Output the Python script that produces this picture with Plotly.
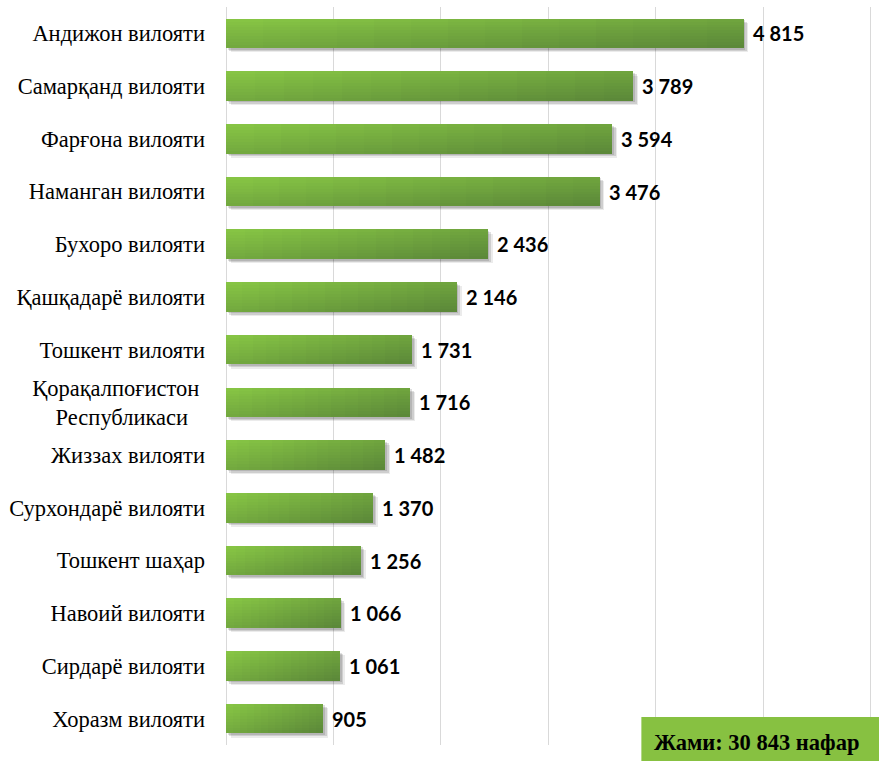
import plotly.graph_objects as go

categories = [
    "Андижон вилояти",
    "Самарқанд вилояти",
    "Фарғона вилояти",
    "Наманган вилояти",
    "Бухоро вилояти",
    "Қашқадарё вилояти",
    "Тошкент вилояти",
    "Қорақалпоғистон&nbsp;<br>Республикаси&nbsp;&nbsp;&nbsp;",
    "Жиззах вилояти",
    "Сурхондарё вилояти",
    "Тошкент шаҳар",
    "Навоий вилояти",
    "Сирдарё вилояти",
    "Хоразм вилояти",
]
values = [4815, 3789, 3594, 3476, 2436, 2146, 1731, 1716, 1482, 1370, 1256, 1066, 1061, 905]
total_label = "Жами: 30 843 нафар"


def fmt(v):
    return f"{v:,}".replace(",", " ")


fig = go.Figure()

BAR_W = 0.56
# soft shadow
for k, (dx, dy, a) in enumerate([(45, 0.08, 0.08), (30, 0.055, 0.12), (15, 0.03, 0.12)]):
    fig.add_trace(go.Bar(
        y=categories, x=values, base=dx, orientation="h",
        width=BAR_W, offset=-BAR_W / 2 + dy,
        marker=dict(color=f"rgba(0,0,0,{a})", line=dict(width=0)),
        hoverinfo="skip", showlegend=False,
    ))

# gradient body built from overlapping slices
c0 = (134, 196, 68)
c1 = (92, 137, 57)
N, M = 10, 14
for i in range(N):
    for j in range(M):
        t = 0.45 * (i / (N - 1)) + 0.55 * (j / (M - 1))
        col = tuple(round(c0[k] + (c1[k] - c0[k]) * t) for k in range(3))
        fig.add_trace(go.Bar(
            y=categories,
            x=[v * (1 - j / M) for v in values],
            base=[v * j / M for v in values],
            orientation="h",
            width=BAR_W - i * BAR_W / N,
            offset=-BAR_W / 2 + i * BAR_W / N,
            marker=dict(color="rgb(%d,%d,%d)" % col, line=dict(width=0)),
            hoverinfo="skip", showlegend=False,
        ))

for c, v in zip(categories, values):
    fig.add_annotation(
        x=v, y=c, text=fmt(v), showarrow=False, xanchor="left", xshift=7,
        font=dict(family="Lato", size=20, color="#000000", weight="bold"),
    )

fig.add_shape(
    type="rect", xref="paper", yref="paper",
    x0=0.642, x1=1.02, y0=-0.04, y1=0.038,
    fillcolor="#87C141", line=dict(width=0), layer="above",
)
fig.add_annotation(
    xref="paper", yref="paper", x=0.82, y=0.003, text="<b>" + total_label + "</b>",
    showarrow=False, xanchor="center", yanchor="middle",
    font=dict(family="Liberation Serif", size=22.5, color="#000000"),
)

fig.update_layout(
    width=879, height=761,
    margin=dict(l=226, r=6, t=7, b=16),
    barmode="overlay",
    bargap=0,
    plot_bgcolor="white", paper_bgcolor="white",
    xaxis=dict(range=[0, 6019], tickvals=[0, 1000, 2000, 3000, 4000, 5000, 6000],
               showticklabels=False,
               showgrid=True, gridcolor="#D9D9D9", gridwidth=1.3,
               zeroline=True, zerolinecolor="#D9D9D9", zerolinewidth=1.3,
               showline=False),
    yaxis=dict(autorange="reversed", showgrid=False, showline=False,
               ticks="", ticklabelstandoff=20,
               tickfont=dict(family="Liberation Serif", size=22.5, color="#000000")),
)

fig.write_html("out.html", config={"displayModeBar": False},
               post_script="document.body.style.margin='0';document.body.style.overflow='hidden';")
